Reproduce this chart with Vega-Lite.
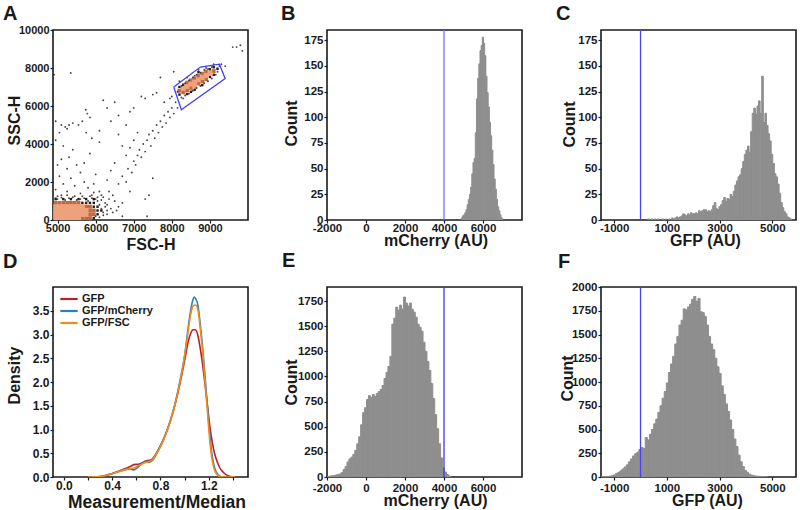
{
"$schema": "https://vega.github.io/schema/vega-lite/v6.json",
"padding": {"left": 2, "top": 3, "right": 0, "bottom": 0},
"background": "white",
"bounds": "flush",
"columns": 3,
"spacing": {"row": 67, "column": 79},
"resolve": {"scale": {"color": "independent", "size": "independent"}, "legend": {"color": "independent", "size": "independent"}},
"config": {
 "font": "Liberation Sans",
 "view": {"stroke": "#1a1a1a", "strokeWidth": 1.6},
 "axis": {"domain": false, "grid": false, "tickColor": "#1a1a1a", "tickSize": 3, "tickWidth": 1.2, "labelFont": "Liberation Sans", "labelFontSize": 11.5, "labelFontWeight": "bold", "labelColor": "#1a1a1a", "labelFlush": false, "labelOverlap": false, "labelPadding": 1, "titleFont": "Liberation Sans", "titleFontSize": 16, "titleFontWeight": "bold", "titleColor": "#1a1a1a", "titleBaseline": "alphabetic"},
 "title": {"font": "Liberation Sans", "fontSize": 20, "fontWeight": "bold", "color": "#1a1a1a", "anchor": "start", "frame": "group", "baseline": "alphabetic"}
},
"datasets": {
 "cells": [
  {"x":4950,"y":1100,"k":1},{"x":5150,"y":1100,"k":1},{"x":5350,"y":1100,"k":1},{"x":5550,"y":1100,"k":1},{"x":5750,"y":1100,"k":1},{"x":5950,"y":1100,"k":1},
  {"x":4950,"y":900,"k":2},{"x":5050,"y":900,"k":2},{"x":5150,"y":900,"k":2},{"x":5250,"y":900,"k":2},{"x":5350,"y":900,"k":2},{"x":5450,"y":900,"k":2},{"x":5550,"y":900,"k":2},{"x":5650,"y":900,"k":1},{"x":5750,"y":900,"k":1},{"x":5850,"y":900,"k":1},{"x":5950,"y":900,"k":1},
  {"x":4950,"y":700,"k":3},{"x":5050,"y":700,"k":3},{"x":5150,"y":700,"k":3},{"x":5250,"y":700,"k":3},{"x":5350,"y":700,"k":3},{"x":5450,"y":700,"k":3},{"x":5550,"y":700,"k":3},{"x":5650,"y":700,"k":3},{"x":5750,"y":700,"k":2},{"x":5850,"y":700,"k":2},{"x":5950,"y":700,"k":1},{"x":6050,"y":700,"k":1},
  {"x":4950,"y":500,"k":3},{"x":5050,"y":500,"k":3},{"x":5150,"y":500,"k":3},{"x":5250,"y":500,"k":3},{"x":5350,"y":500,"k":3},{"x":5450,"y":500,"k":3},{"x":5550,"y":500,"k":3},{"x":5650,"y":500,"k":3},{"x":5750,"y":500,"k":3},{"x":5850,"y":500,"k":2},{"x":5950,"y":500,"k":2},{"x":6050,"y":500,"k":1},{"x":6150,"y":500,"k":1},
  {"x":4950,"y":300,"k":3},{"x":5050,"y":300,"k":3},{"x":5150,"y":300,"k":3},{"x":5250,"y":300,"k":3},{"x":5350,"y":300,"k":3},{"x":5450,"y":300,"k":3},{"x":5550,"y":300,"k":3},{"x":5650,"y":300,"k":3},{"x":5750,"y":300,"k":3},{"x":5850,"y":300,"k":2},{"x":5950,"y":300,"k":2},{"x":6050,"y":300,"k":1},
  {"x":4950,"y":100,"k":3},{"x":5050,"y":100,"k":3},{"x":5150,"y":100,"k":3},{"x":5250,"y":100,"k":3},{"x":5350,"y":100,"k":3},{"x":5450,"y":100,"k":3},{"x":5550,"y":100,"k":3},{"x":5650,"y":100,"k":2},{"x":5750,"y":100,"k":2},{"x":5850,"y":100,"k":2},{"x":5950,"y":100,"k":1},
  {"x":8200,"y":6600,"k":1},{"x":8200,"y":6800,"k":2},{"x":8200,"y":7000,"k":1},
  {"x":8300,"y":6720,"k":2},{"x":8300,"y":6920,"k":3},{"x":8300,"y":7120,"k":1},
  {"x":8400,"y":6630,"k":1},{"x":8400,"y":6830,"k":2},{"x":8400,"y":7030,"k":3},{"x":8400,"y":7230,"k":2},
  {"x":8500,"y":6750,"k":1},{"x":8500,"y":6950,"k":2},{"x":8500,"y":7150,"k":3},{"x":8500,"y":7350,"k":2},
  {"x":8600,"y":6860,"k":1},{"x":8600,"y":7060,"k":3},{"x":8600,"y":7260,"k":3},{"x":8600,"y":7460,"k":2},
  {"x":8700,"y":7180,"k":2},{"x":8700,"y":7380,"k":3},{"x":8700,"y":7580,"k":2},{"x":8700,"y":7780,"k":1},
  {"x":8800,"y":7100,"k":1},{"x":8800,"y":7300,"k":2},{"x":8800,"y":7500,"k":3},{"x":8800,"y":7700,"k":2},
  {"x":8900,"y":7410,"k":2},{"x":8900,"y":7610,"k":3},{"x":8900,"y":7810,"k":2},
  {"x":9000,"y":7530,"k":1},{"x":9000,"y":7730,"k":3},{"x":9000,"y":7930,"k":1},
  {"x":9100,"y":7640,"k":1},{"x":9100,"y":7840,"k":2},{"x":9100,"y":8040,"k":1},
  {"x":9200,"y":7960,"k":1}
 ],
 "dots": [
  {"x":4950,"y":5200},{"x":5100,"y":5000},{"x":5200,"y":4900},{"x":5300,"y":5000},{"x":5400,"y":5100},{"x":5250,"y":4800},{"x":5050,"y":4600},{"x":4950,"y":4200},{"x":5150,"y":3900},{"x":5400,"y":3700},{"x":5300,"y":3300},{"x":5100,"y":3200},{"x":5000,"y":2900},{"x":5500,"y":2900},{"x":5250,"y":2700},{"x":5600,"y":2500},{"x":5050,"y":2300},{"x":5350,"y":2200},{"x":5700,"y":2000},{"x":5150,"y":1900},{"x":5450,"y":1800},{"x":5800,"y":1700},{"x":4950,"y":1600},{"x":5250,"y":1500},{"x":5600,"y":1400},{"x":5900,"y":1300},{"x":5100,"y":1300},{"x":5400,"y":1200},{"x":5700,"y":1150},{"x":6000,"y":1100},{"x":5550,"y":5000},{"x":5650,"y":5200},{"x":5750,"y":4600},{"x":5900,"y":4300},{"x":5850,"y":3500},{"x":5700,"y":3000},{"x":6000,"y":2400},{"x":5950,"y":1900},{"x":5850,"y":5400},{"x":6100,"y":4100},{"x":5740,"y":5800},{"x":5780,"y":5600},{"x":5345,"y":7740},{"x":4910,"y":7650},
  {"x":6200,"y":1200},{"x":6350,"y":1500},{"x":6500,"y":1000},{"x":6600,"y":1900},{"x":6700,"y":2300},{"x":6800,"y":2000},{"x":6850,"y":2700},{"x":6950,"y":2500},{"x":7000,"y":3100},{"x":7050,"y":2900},{"x":7100,"y":3400},{"x":7150,"y":3700},{"x":7200,"y":3300},{"x":7250,"y":4000},{"x":7300,"y":3600},{"x":7350,"y":4200},{"x":7400,"y":4500},{"x":7450,"y":3900},{"x":7500,"y":4700},{"x":7550,"y":4300},{"x":7600,"y":5000},{"x":7650,"y":4600},{"x":7700,"y":5200},{"x":7750,"y":4900},{"x":7800,"y":5500},{"x":7850,"y":5100},{"x":7900,"y":5700},{"x":7950,"y":5400},{"x":8000,"y":5900},{"x":8050,"y":5600},{"x":7100,"y":4600},{"x":7000,"y":4200},{"x":6900,"y":3800},{"x":6800,"y":3400},{"x":6700,"y":3900},{"x":6600,"y":4500},{"x":6500,"y":3000},{"x":6400,"y":2600},{"x":6300,"y":2100},{"x":6900,"y":1500},{"x":7300,"y":1100},{"x":7500,"y":2200},{"x":7400,"y":1300},{"x":6600,"y":700},{"x":6700,"y":200},{"x":7350,"y":200},{"x":6150,"y":600},{"x":6300,"y":800},{"x":6450,"y":400},{"x":7600,"y":6700},{"x":7700,"y":7500},{"x":7300,"y":6400},{"x":7500,"y":6600},{"x":7800,"y":6200},{"x":7950,"y":6400},{"x":8050,"y":7800},{"x":6500,"y":6200},{"x":6300,"y":5900},{"x":6200,"y":6300},{"x":6900,"y":5700},{"x":7000,"y":5900},{"x":7200,"y":6500},{"x":6600,"y":5500},{"x":6400,"y":5200},{"x":6800,"y":5000},{"x":6100,"y":4700},
  {"x":9600,"y":9100},{"x":9700,"y":9100},{"x":9800,"y":9200},{"x":9850,"y":8900},{"x":9400,"y":8100},{"x":9300,"y":8200},
  {"x":8000,"y":6500},{"x":8100,"y":6200},{"x":8150,"y":5900},{"x":8300,"y":6400},{"x":9200,"y":7800},{"x":9250,"y":8100},{"x":9100,"y":8200},{"x":8400,"y":7500},{"x":8200,"y":7300},{"x":8600,"y":7600},{"x":8700,"y":7900},{"x":8900,"y":8000},
  {"x":8150,"y":6750},{"x":8250,"y":7050},{"x":8350,"y":7200},{"x":8450,"y":7350},{"x":8550,"y":7500},{"x":8650,"y":7650},{"x":8750,"y":7750},{"x":8850,"y":7900},{"x":8950,"y":7950},{"x":9050,"y":8050},{"x":9150,"y":7650},{"x":9050,"y":7450},{"x":8950,"y":7300},{"x":8850,"y":7200},{"x":8750,"y":7050},{"x":8650,"y":6950},{"x":8550,"y":6800},{"x":8450,"y":6650},{"x":8350,"y":6550},{"x":8250,"y":6450},
  {"x":6100,"y":800},{"x":6200,"y":400},{"x":6050,"y":1000},{"x":5900,"y":1150},{"x":5600,"y":1100},{"x":5300,"y":1150},{"x":5000,"y":1100},{"x":6300,"y":300},{"x":6400,"y":600},{"x":6000,"y":200},{"x":6150,"y":1300},{"x":5800,"y":1000},{"x":5500,"y":1050},{"x":5200,"y":1050},{"x":4950,"y":1150},{"x":6250,"y":900},{"x":6350,"y":1100},{"x":6100,"y":1500},{"x":5950,"y":1450},{"x":6450,"y":1300},{"x":6550,"y":500},{"x":6700,"y":900},
  {"x":5000,"y":1250},{"x":5100,"y":1180},{"x":5250,"y":1300},{"x":5450,"y":1250},{"x":5650,"y":1250},{"x":5850,"y":1250},{"x":6050,"y":1200},{"x":6150,"y":1050},{"x":6250,"y":700},{"x":6200,"y":250},{"x":6100,"y":150},{"x":6300,"y":500}
 ],
 "gate": [
  {"x":8050,"y":7000,"o":1},{"x":8750,"y":8050,"o":2},{"x":9250,"y":8200,"o":3},{"x":9400,"y":7450,"o":4},{"x":8250,"y":5800,"o":5},{"x":8050,"y":7000,"o":6}
 ],
 "hB": [
  {"a":4860,"b":4920,"n":2},{"a":4920,"b":4980,"n":4},{"a":4980,"b":5040,"n":5},{"a":5040,"b":5100,"n":7},{"a":5100,"b":5160,"n":10},{"a":5160,"b":5220,"n":15},{"a":5220,"b":5280,"n":20},{"a":5280,"b":5340,"n":25},{"a":5340,"b":5400,"n":32},{"a":5400,"b":5460,"n":45},{"a":5460,"b":5520,"n":56},{"a":5520,"b":5580,"n":60},{"a":5580,"b":5640,"n":85},{"a":5640,"b":5700,"n":118},{"a":5700,"b":5760,"n":138},{"a":5760,"b":5820,"n":152},{"a":5820,"b":5880,"n":165},{"a":5880,"b":5940,"n":170},{"a":5940,"b":6000,"n":178},{"a":6000,"b":6060,"n":172},{"a":6060,"b":6120,"n":160},{"a":6120,"b":6180,"n":140},{"a":6180,"b":6240,"n":124},{"a":6240,"b":6300,"n":110},{"a":6300,"b":6360,"n":95},{"a":6360,"b":6420,"n":82},{"a":6420,"b":6480,"n":68},{"a":6480,"b":6540,"n":54},{"a":6540,"b":6600,"n":40},{"a":6600,"b":6660,"n":30},{"a":6660,"b":6720,"n":20},{"a":6720,"b":6780,"n":13},{"a":6780,"b":6840,"n":9},{"a":6840,"b":6900,"n":5},{"a":6900,"b":6960,"n":2}
 ],
 "hC": [
  {"a":260,"b":320,"n":1},{"a":380,"b":440,"n":1},{"a":500,"b":560,"n":1},{"a":620,"b":680,"n":1},{"a":800,"b":860,"n":1},{"a":920,"b":980,"n":1},{"a":1040,"b":1100,"n":1},{"a":1160,"b":1220,"n":2},{"a":1220,"b":1280,"n":1},{"a":1280,"b":1340,"n":2},{"a":1340,"b":1400,"n":3},{"a":1400,"b":1460,"n":2},{"a":1460,"b":1520,"n":3},{"a":1520,"b":1580,"n":4},{"a":1580,"b":1640,"n":6},{"a":1640,"b":1700,"n":5},{"a":1700,"b":1760,"n":4},{"a":1760,"b":1820,"n":6},{"a":1820,"b":1880,"n":5},{"a":1880,"b":1940,"n":7},{"a":1940,"b":2000,"n":6},{"a":2000,"b":2060,"n":6},{"a":2060,"b":2120,"n":7},{"a":2120,"b":2180,"n":6},{"a":2180,"b":2240,"n":9},{"a":2240,"b":2300,"n":8},{"a":2300,"b":2360,"n":9},{"a":2360,"b":2420,"n":10},{"a":2420,"b":2480,"n":10},{"a":2480,"b":2540,"n":8},{"a":2540,"b":2600,"n":9},{"a":2600,"b":2660,"n":8},{"a":2660,"b":2720,"n":10},{"a":2720,"b":2780,"n":14},{"a":2780,"b":2840,"n":17},{"a":2840,"b":2900,"n":11},{"a":2900,"b":2960,"n":10},{"a":2960,"b":3020,"n":13},{"a":3020,"b":3080,"n":15},{"a":3080,"b":3140,"n":19},{"a":3140,"b":3200,"n":22},{"a":3200,"b":3260,"n":18},{"a":3260,"b":3320,"n":21},{"a":3320,"b":3380,"n":20},{"a":3380,"b":3440,"n":25},{"a":3440,"b":3500,"n":23},{"a":3500,"b":3560,"n":28},{"a":3560,"b":3620,"n":34},{"a":3620,"b":3680,"n":38},{"a":3680,"b":3740,"n":42},{"a":3740,"b":3800,"n":44},{"a":3800,"b":3860,"n":50},{"a":3860,"b":3920,"n":57},{"a":3920,"b":3980,"n":64},{"a":3980,"b":4040,"n":68},{"a":4040,"b":4100,"n":72},{"a":4100,"b":4160,"n":66},{"a":4160,"b":4220,"n":86},{"a":4220,"b":4280,"n":104},{"a":4280,"b":4340,"n":109},{"a":4340,"b":4400,"n":103},{"a":4400,"b":4460,"n":111},{"a":4460,"b":4520,"n":116},{"a":4520,"b":4580,"n":104},{"a":4580,"b":4640,"n":140},{"a":4640,"b":4700,"n":95},{"a":4700,"b":4760,"n":104},{"a":4760,"b":4820,"n":92},{"a":4820,"b":4880,"n":84},{"a":4880,"b":4940,"n":77},{"a":4940,"b":5000,"n":64},{"a":5000,"b":5060,"n":55},{"a":5060,"b":5120,"n":45},{"a":5120,"b":5180,"n":42},{"a":5180,"b":5240,"n":35},{"a":5240,"b":5300,"n":26},{"a":5300,"b":5360,"n":17},{"a":5360,"b":5420,"n":12},{"a":5420,"b":5480,"n":8},{"a":5480,"b":5540,"n":6},{"a":5540,"b":5600,"n":3},{"a":5600,"b":5660,"n":2},{"a":5660,"b":5720,"n":1}
 ],
 "hE": [
  {"a":-2000,"b":-1900,"n":5},{"a":-1900,"b":-1800,"n":10},{"a":-1800,"b":-1700,"n":12},{"a":-1700,"b":-1600,"n":15},{"a":-1600,"b":-1500,"n":20},{"a":-1500,"b":-1400,"n":25},{"a":-1400,"b":-1300,"n":30},{"a":-1300,"b":-1200,"n":45},{"a":-1200,"b":-1100,"n":75},{"a":-1100,"b":-1000,"n":105},{"a":-1000,"b":-900,"n":150},{"a":-900,"b":-800,"n":180},{"a":-800,"b":-700,"n":198},{"a":-700,"b":-600,"n":225},{"a":-600,"b":-500,"n":265},{"a":-500,"b":-400,"n":330},{"a":-400,"b":-300,"n":400},{"a":-300,"b":-200,"n":520},{"a":-200,"b":-100,"n":640},{"a":-100,"b":0,"n":690},{"a":0,"b":100,"n":770},{"a":100,"b":200,"n":810},{"a":200,"b":300,"n":790},{"a":300,"b":400,"n":820},{"a":400,"b":500,"n":800},{"a":500,"b":600,"n":830},{"a":600,"b":700,"n":850},{"a":700,"b":800,"n":870},{"a":800,"b":900,"n":910},{"a":900,"b":1000,"n":980},{"a":1000,"b":1100,"n":1040},{"a":1100,"b":1200,"n":1100},{"a":1200,"b":1300,"n":1200},{"a":1300,"b":1400,"n":1520},{"a":1400,"b":1500,"n":1580},{"a":1500,"b":1600,"n":1690},{"a":1600,"b":1700,"n":1660},{"a":1700,"b":1800,"n":1710},{"a":1800,"b":1900,"n":1670},{"a":1900,"b":2000,"n":1790},{"a":2000,"b":2100,"n":1730},{"a":2100,"b":2200,"n":1700},{"a":2200,"b":2300,"n":1730},{"a":2300,"b":2400,"n":1670},{"a":2400,"b":2500,"n":1640},{"a":2500,"b":2600,"n":1590},{"a":2600,"b":2700,"n":1520},{"a":2700,"b":2800,"n":1490},{"a":2800,"b":2900,"n":1450},{"a":2900,"b":3000,"n":1340},{"a":3000,"b":3100,"n":1250},{"a":3100,"b":3200,"n":1150},{"a":3200,"b":3300,"n":1060},{"a":3300,"b":3400,"n":930},{"a":3400,"b":3500,"n":780},{"a":3500,"b":3600,"n":620},{"a":3600,"b":3700,"n":480},{"a":3700,"b":3800,"n":330},{"a":3800,"b":3900,"n":190},{"a":3900,"b":4000,"n":90},{"a":4000,"b":4100,"n":50},{"a":4100,"b":4200,"n":25},{"a":4200,"b":4300,"n":10}
 ],
 "hF": [
  {"a":-1520,"b":-1440,"n":2},{"a":-1440,"b":-1360,"n":3},{"a":-1360,"b":-1280,"n":4},{"a":-1280,"b":-1200,"n":6},{"a":-1200,"b":-1120,"n":10},{"a":-1120,"b":-1040,"n":15},{"a":-1040,"b":-960,"n":22},{"a":-960,"b":-880,"n":38},{"a":-880,"b":-800,"n":50},{"a":-800,"b":-720,"n":65},{"a":-720,"b":-640,"n":85},{"a":-640,"b":-560,"n":105},{"a":-560,"b":-480,"n":128},{"a":-480,"b":-400,"n":160},{"a":-400,"b":-320,"n":190},{"a":-320,"b":-240,"n":222},{"a":-240,"b":-160,"n":245},{"a":-160,"b":-80,"n":262},{"a":-80,"b":0,"n":290},{"a":0,"b":80,"n":310},{"a":80,"b":160,"n":300},{"a":160,"b":240,"n":415},{"a":240,"b":320,"n":390},{"a":320,"b":400,"n":450},{"a":400,"b":480,"n":500},{"a":480,"b":560,"n":560},{"a":560,"b":640,"n":610},{"a":640,"b":720,"n":680},{"a":720,"b":800,"n":750},{"a":800,"b":880,"n":830},{"a":880,"b":960,"n":900},{"a":960,"b":1040,"n":990},{"a":1040,"b":1120,"n":1100},{"a":1120,"b":1200,"n":1190},{"a":1200,"b":1280,"n":1270},{"a":1280,"b":1360,"n":1400},{"a":1360,"b":1440,"n":1480},{"a":1440,"b":1520,"n":1600},{"a":1520,"b":1600,"n":1650},{"a":1600,"b":1680,"n":1770},{"a":1680,"b":1760,"n":1760},{"a":1760,"b":1840,"n":1790},{"a":1840,"b":1920,"n":1820},{"a":1920,"b":2000,"n":1870},{"a":2000,"b":2080,"n":1900},{"a":2080,"b":2160,"n":1850},{"a":2160,"b":2240,"n":1880},{"a":2240,"b":2320,"n":1740},{"a":2320,"b":2400,"n":1730},{"a":2400,"b":2480,"n":1690},{"a":2480,"b":2560,"n":1600},{"a":2560,"b":2640,"n":1480},{"a":2640,"b":2720,"n":1400},{"a":2720,"b":2800,"n":1340},{"a":2800,"b":2880,"n":1250},{"a":2880,"b":2960,"n":1160},{"a":2960,"b":3040,"n":1090},{"a":3040,"b":3120,"n":960},{"a":3120,"b":3200,"n":870},{"a":3200,"b":3280,"n":770},{"a":3280,"b":3360,"n":690},{"a":3360,"b":3440,"n":600},{"a":3440,"b":3520,"n":500},{"a":3520,"b":3600,"n":400},{"a":3600,"b":3680,"n":320},{"a":3680,"b":3760,"n":230},{"a":3760,"b":3840,"n":160},{"a":3840,"b":3920,"n":110},{"a":3920,"b":4000,"n":70},{"a":4000,"b":4080,"n":50},{"a":4080,"b":4160,"n":30},{"a":4160,"b":4240,"n":20},{"a":4240,"b":4320,"n":14},{"a":4320,"b":4400,"n":10},{"a":4400,"b":4480,"n":8},{"a":4480,"b":4560,"n":6},{"a":4560,"b":4640,"n":4},{"a":4640,"b":4720,"n":3},{"a":4720,"b":4800,"n":2}
 ],
 "dens": [
  {"x":0.2,"d":0,"s":"GFP"},{"x":0.3,"d":0.01,"s":"GFP"},{"x":0.37,"d":0.05,"s":"GFP"},{"x":0.45,"d":0.12,"s":"GFP"},{"x":0.5,"d":0.17,"s":"GFP"},{"x":0.55,"d":0.22,"s":"GFP"},{"x":0.58,"d":0.26,"s":"GFP"},{"x":0.62,"d":0.27,"s":"GFP"},{"x":0.65,"d":0.3,"s":"GFP"},{"x":0.68,"d":0.34,"s":"GFP"},{"x":0.71,"d":0.35,"s":"GFP"},{"x":0.74,"d":0.4,"s":"GFP"},{"x":0.77,"d":0.52,"s":"GFP"},{"x":0.8,"d":0.66,"s":"GFP"},{"x":0.84,"d":0.89,"s":"GFP"},{"x":0.88,"d":1.17,"s":"GFP"},{"x":0.92,"d":1.52,"s":"GFP"},{"x":0.96,"d":1.95,"s":"GFP"},{"x":1.0,"d":2.45,"s":"GFP"},{"x":1.03,"d":2.85,"s":"GFP"},{"x":1.05,"d":3.02,"s":"GFP"},{"x":1.07,"d":3.1,"s":"GFP"},{"x":1.09,"d":3.1,"s":"GFP"},{"x":1.11,"d":2.98,"s":"GFP"},{"x":1.13,"d":2.7,"s":"GFP"},{"x":1.15,"d":2.35,"s":"GFP"},{"x":1.17,"d":1.93,"s":"GFP"},{"x":1.19,"d":1.48,"s":"GFP"},{"x":1.21,"d":1.05,"s":"GFP"},{"x":1.23,"d":0.72,"s":"GFP"},{"x":1.25,"d":0.48,"s":"GFP"},{"x":1.27,"d":0.32,"s":"GFP"},{"x":1.29,"d":0.2,"s":"GFP"},{"x":1.32,"d":0.1,"s":"GFP"},{"x":1.35,"d":0.04,"s":"GFP"},{"x":1.38,"d":0.01,"s":"GFP"},{"x":1.42,"d":0,"s":"GFP"},
  {"x":0.2,"d":0,"s":"GFP/mCherry"},{"x":0.3,"d":0.01,"s":"GFP/mCherry"},{"x":0.37,"d":0.05,"s":"GFP/mCherry"},{"x":0.45,"d":0.11,"s":"GFP/mCherry"},{"x":0.5,"d":0.15,"s":"GFP/mCherry"},{"x":0.55,"d":0.17,"s":"GFP/mCherry"},{"x":0.58,"d":0.15,"s":"GFP/mCherry"},{"x":0.62,"d":0.22,"s":"GFP/mCherry"},{"x":0.65,"d":0.29,"s":"GFP/mCherry"},{"x":0.68,"d":0.33,"s":"GFP/mCherry"},{"x":0.71,"d":0.31,"s":"GFP/mCherry"},{"x":0.74,"d":0.37,"s":"GFP/mCherry"},{"x":0.77,"d":0.5,"s":"GFP/mCherry"},{"x":0.8,"d":0.65,"s":"GFP/mCherry"},{"x":0.84,"d":0.88,"s":"GFP/mCherry"},{"x":0.88,"d":1.17,"s":"GFP/mCherry"},{"x":0.92,"d":1.53,"s":"GFP/mCherry"},{"x":0.96,"d":2.0,"s":"GFP/mCherry"},{"x":1.0,"d":2.55,"s":"GFP/mCherry"},{"x":1.03,"d":3.15,"s":"GFP/mCherry"},{"x":1.05,"d":3.5,"s":"GFP/mCherry"},{"x":1.07,"d":3.74,"s":"GFP/mCherry"},{"x":1.08,"d":3.79,"s":"GFP/mCherry"},{"x":1.09,"d":3.76,"s":"GFP/mCherry"},{"x":1.11,"d":3.62,"s":"GFP/mCherry"},{"x":1.13,"d":3.2,"s":"GFP/mCherry"},{"x":1.15,"d":2.7,"s":"GFP/mCherry"},{"x":1.17,"d":2.1,"s":"GFP/mCherry"},{"x":1.19,"d":1.45,"s":"GFP/mCherry"},{"x":1.21,"d":0.85,"s":"GFP/mCherry"},{"x":1.23,"d":0.42,"s":"GFP/mCherry"},{"x":1.25,"d":0.18,"s":"GFP/mCherry"},{"x":1.27,"d":0.07,"s":"GFP/mCherry"},{"x":1.29,"d":0.02,"s":"GFP/mCherry"},{"x":1.32,"d":0,"s":"GFP/mCherry"},{"x":1.42,"d":0,"s":"GFP/mCherry"},
  {"x":0.2,"d":0,"s":"GFP/FSC"},{"x":0.3,"d":0.01,"s":"GFP/FSC"},{"x":0.37,"d":0.05,"s":"GFP/FSC"},{"x":0.45,"d":0.11,"s":"GFP/FSC"},{"x":0.5,"d":0.15,"s":"GFP/FSC"},{"x":0.55,"d":0.18,"s":"GFP/FSC"},{"x":0.58,"d":0.19,"s":"GFP/FSC"},{"x":0.62,"d":0.24,"s":"GFP/FSC"},{"x":0.65,"d":0.28,"s":"GFP/FSC"},{"x":0.68,"d":0.31,"s":"GFP/FSC"},{"x":0.71,"d":0.33,"s":"GFP/FSC"},{"x":0.74,"d":0.38,"s":"GFP/FSC"},{"x":0.77,"d":0.5,"s":"GFP/FSC"},{"x":0.8,"d":0.64,"s":"GFP/FSC"},{"x":0.84,"d":0.87,"s":"GFP/FSC"},{"x":0.88,"d":1.16,"s":"GFP/FSC"},{"x":0.92,"d":1.52,"s":"GFP/FSC"},{"x":0.96,"d":1.98,"s":"GFP/FSC"},{"x":1.0,"d":2.55,"s":"GFP/FSC"},{"x":1.03,"d":3.08,"s":"GFP/FSC"},{"x":1.05,"d":3.42,"s":"GFP/FSC"},{"x":1.07,"d":3.6,"s":"GFP/FSC"},{"x":1.09,"d":3.62,"s":"GFP/FSC"},{"x":1.11,"d":3.52,"s":"GFP/FSC"},{"x":1.13,"d":3.12,"s":"GFP/FSC"},{"x":1.15,"d":2.62,"s":"GFP/FSC"},{"x":1.17,"d":2.0,"s":"GFP/FSC"},{"x":1.19,"d":1.35,"s":"GFP/FSC"},{"x":1.21,"d":0.72,"s":"GFP/FSC"},{"x":1.23,"d":0.33,"s":"GFP/FSC"},{"x":1.25,"d":0.13,"s":"GFP/FSC"},{"x":1.27,"d":0.05,"s":"GFP/FSC"},{"x":1.29,"d":0.01,"s":"GFP/FSC"},{"x":1.32,"d":0,"s":"GFP/FSC"},{"x":1.42,"d":0,"s":"GFP/FSC"}
 ]
},
"concat": [
 {
  "title": {"text": "A", "dx": -50, "offset": 0},
  "width": 195, "height": 190,
  "layer": [
   {"data": {"name": "cells"}, "mark": {"type": "point", "shape": "square", "filled": true, "opacity": 1, "clip": true},
    "encoding": {
     "x": {"field": "x", "type": "quantitative", "scale": {"domain": [4880, 10000], "nice": false, "zero": false}, "axis": {"values": [5000,6000,7000,8000,9000], "labelExpr": "'' + datum.value", "labelOverlap": false, "labelFontSize": 11, "labelPadding": -1, "title": "FSC-H", "titleX": 97.5, "titleY": 29}},
     "y": {"field": "y", "type": "quantitative", "scale": {"domain": [0, 10000], "nice": false}, "axis": {"values": [0,2000,4000,6000,8000,10000], "labelExpr": "'' + datum.value", "labelOverlap": false, "labelFontSize": 11, "title": "SSC-H", "titleX": -34, "titleY": 90}},
     "color": {"field": "k", "type": "ordinal", "scale": {"domain": [1,2,3], "range": ["#2b1a12", "#c06a40", "#eea27c"]}, "legend": null},
     "size": {"field": "k", "type": "ordinal", "scale": {"domain": [1,2,3], "range": [6, 24, 24]}, "legend": null},
     "order": {"field": "k", "type": "quantitative"}
    }},
   {"data": {"name": "dots"}, "mark": {"type": "point", "shape": "circle", "filled": true, "size": 3.5, "color": "#222222", "opacity": 0.85, "clip": true},
    "encoding": {
     "x": {"field": "x", "type": "quantitative", "axis": {"values": [5000,6000,7000,8000,9000], "labelExpr": "'' + datum.value", "labelOverlap": false, "labelFontSize": 11, "labelPadding": -1, "title": "FSC-H", "titleX": 97.5, "titleY": 29}},
     "y": {"field": "y", "type": "quantitative", "axis": {"values": [0,2000,4000,6000,8000,10000], "labelExpr": "'' + datum.value", "labelOverlap": false, "labelFontSize": 11, "title": "SSC-H", "titleX": -34, "titleY": 90}}
    }},
   {"data": {"name": "gate"}, "mark": {"type": "line", "color": "#3d3dff", "strokeWidth": 1.3},
    "encoding": {
     "x": {"field": "x", "type": "quantitative", "axis": {"values": [5000,6000,7000,8000,9000], "labelExpr": "'' + datum.value", "labelOverlap": false, "labelFontSize": 11, "labelPadding": -1, "title": "FSC-H", "titleX": 97.5, "titleY": 29}},
     "y": {"field": "y", "type": "quantitative", "axis": {"values": [0,2000,4000,6000,8000,10000], "labelExpr": "'' + datum.value", "labelOverlap": false, "labelFontSize": 11, "title": "SSC-H", "titleX": -34, "titleY": 90}},
     "order": {"field": "o", "type": "quantitative"}
    }}
  ]
 },
 {
  "title": {"text": "B", "dx": -46, "offset": 5},
  "width": 195, "height": 190,
  "layer": [
   {"data": {"name": "hB"}, "mark": {"type": "bar", "binSpacing": 0, "color": "#8e8e8e", "stroke": "#8e8e8e", "strokeWidth": 1, "clip": true},
    "encoding": {
     "x": {"field": "a", "type": "quantitative", "bin": "binned", "scale": {"domain": [-2000, 8000], "nice": false, "zero": false}, "axis": {"values": [-2000,0,2000,4000,6000], "labelExpr": "'' + datum.value", "labelOverlap": false, "labelPadding": -1, "title": "mCherry (AU)", "titleX": 108.5, "titleY": 25.5}},
     "x2": {"field": "b"},
     "y": {"field": "n", "type": "quantitative", "scale": {"domain": [0, 185], "nice": false}, "axis": {"values": [0,25,50,75,100,125,150,175], "labelExpr": "'' + datum.value", "labelOverlap": false, "title": "Count", "titleX": -31, "titleY": 93}}
    }},
   {"data": {"values": [{"v": 4000}]}, "mark": {"type": "rule", "color": "#7070ff", "strokeWidth": 1.3},
    "encoding": {"x": {"field": "v", "type": "quantitative", "title": "mCherry (AU)"}}}
  ]
 },
 {
  "title": {"text": "C", "dx": -45, "offset": 5},
  "width": 195, "height": 190,
  "layer": [
   {"data": {"name": "hC"}, "mark": {"type": "bar", "binSpacing": 0, "color": "#8e8e8e", "stroke": "#8e8e8e", "strokeWidth": 1, "clip": true},
    "encoding": {
     "x": {"field": "a", "type": "quantitative", "bin": "binned", "scale": {"domain": [-1500, 5900], "nice": false, "zero": false}, "axis": {"values": [-1000,1000,3000,5000], "labelExpr": "'' + datum.value", "labelOverlap": false, "labelPadding": -1, "title": "GFP (AU)", "titleX": 104, "titleY": 25.5}},
     "x2": {"field": "b"},
     "y": {"field": "n", "type": "quantitative", "scale": {"domain": [0, 185], "nice": false}, "axis": {"values": [0,25,50,75,100,125,150,175], "labelExpr": "'' + datum.value", "labelOverlap": false, "title": "Count", "titleX": -27, "titleY": 94}}
    }},
   {"data": {"values": [{"v": 0}]}, "mark": {"type": "rule", "color": "#4646f0", "strokeWidth": 1.3},
    "encoding": {"x": {"field": "v", "type": "quantitative", "title": "GFP (AU)"}}}
  ]
 },
 {
  "title": {"text": "D", "dx": -50, "offset": 15},
  "width": 195, "height": 190,
  "data": {"name": "dens"},
  "mark": {"type": "line", "interpolate": "monotone", "strokeWidth": 1.6, "clip": true},
  "encoding": {
   "x": {"field": "x", "type": "quantitative", "scale": {"domain": [-0.09, 1.525], "nice": false, "zero": false}, "axis": {"values": [0,0.2,0.4,0.6,0.8,1.0,1.2,1.4], "labelExpr": "round(datum.value*10) % 4 == 0 ? format(datum.value, '.1f') : ''", "labelOverlap": false, "labelPadding": 0, "labelFontSize": 12, "title": "Measurement/Median", "titleFontSize": 17.5, "titleX": 103.5, "titleY": 30}},
   "y": {"field": "d", "type": "quantitative", "scale": {"domain": [0, 4], "nice": false}, "axis": {"values": [0,0.5,1,1.5,2,2.5,3,3.5], "format": ".1f", "labelOverlap": false, "labelFontSize": 12, "title": "Density", "titleFontSize": 16, "titleX": -34, "titleY": 88}},
   "color": {"field": "s", "type": "nominal", "scale": {"domain": ["GFP", "GFP/mCherry", "GFP/FSC"], "range": ["#b5222b", "#2a7fc0", "#f28a1e"]},
    "legend": {"orient": "none", "legendX": 6, "legendY": 6, "title": null, "symbolType": "stroke", "symbolSize": 300, "symbolStrokeWidth": 2.2, "labelFontSize": 11, "labelFontWeight": "bold", "labelFont": "Liberation Sans", "labelColor": "#1a1a1a", "clipHeight": 12, "rowPadding": 0, "padding": 0, "labelOffset": 3}}
  }
 },
 {
  "title": {"text": "E", "dx": -45, "offset": 15},
  "width": 195, "height": 190,
  "layer": [
   {"data": {"name": "hE"}, "mark": {"type": "bar", "binSpacing": 0, "color": "#8e8e8e", "stroke": "#8e8e8e", "strokeWidth": 1, "clip": true},
    "encoding": {
     "x": {"field": "a", "type": "quantitative", "bin": "binned", "scale": {"domain": [-2000, 8000], "nice": false, "zero": false}, "axis": {"values": [-2000,0,2000,4000,6000], "labelExpr": "'' + datum.value", "labelOverlap": false, "labelPadding": 2, "title": "mCherry (AU)", "titleX": 108, "titleY": 28}},
     "x2": {"field": "b"},
     "y": {"field": "n", "type": "quantitative", "scale": {"domain": [0, 1890], "nice": false}, "axis": {"values": [0,250,500,750,1000,1250,1500,1750], "labelExpr": "'' + datum.value", "labelOverlap": false, "title": "Count", "titleX": -31, "titleY": 95}}
    }},
   {"data": {"values": [{"v": 4000}]}, "mark": {"type": "rule", "color": "#3a3af0", "strokeWidth": 1.3},
    "encoding": {"x": {"field": "v", "type": "quantitative", "title": "mCherry (AU)"}}}
  ]
 },
 {
  "title": {"text": "F", "dx": -43, "offset": 9},
  "width": 195, "height": 190,
  "layer": [
   {"data": {"name": "hF"}, "mark": {"type": "bar", "binSpacing": 0, "color": "#8e8e8e", "stroke": "#8e8e8e", "strokeWidth": 1, "clip": true},
    "encoding": {
     "x": {"field": "a", "type": "quantitative", "bin": "binned", "scale": {"domain": [-1500, 5900], "nice": false, "zero": false}, "axis": {"values": [-1000,1000,3000,5000], "labelExpr": "'' + datum.value", "labelOverlap": false, "labelPadding": 2, "title": "GFP (AU)", "titleX": 106, "titleY": 28}},
     "x2": {"field": "b"},
     "y": {"field": "n", "type": "quantitative", "scale": {"domain": [0, 2000], "nice": false}, "axis": {"values": [0,250,500,750,1000,1250,1500,1750,2000], "labelExpr": "'' + datum.value", "labelOverlap": false, "title": "Count", "titleX": -29, "titleY": 91}}
    }},
   {"data": {"values": [{"v": 0}]}, "mark": {"type": "rule", "color": "#4646f0", "strokeWidth": 1.3},
    "encoding": {"x": {"field": "v", "type": "quantitative", "title": "GFP (AU)"}}}
  ]
 }
]
}
